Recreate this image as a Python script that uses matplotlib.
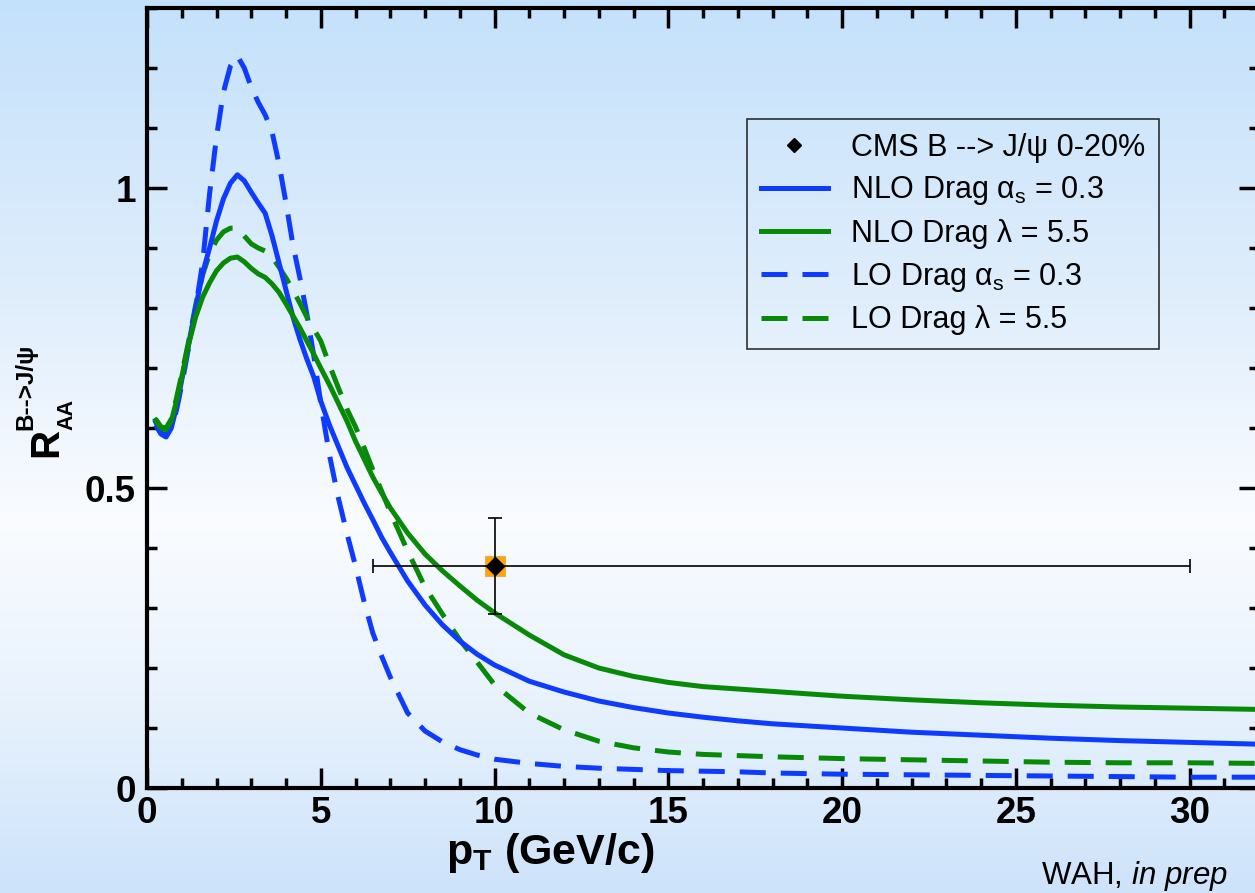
import numpy as np
import matplotlib
matplotlib.use("Agg")
import matplotlib.pyplot as plt
from matplotlib.lines import Line2D
from matplotlib.ticker import MultipleLocator

plt.rcParams['font.family'] = ['Liberation Sans', 'DejaVu Sans']
plt.rcParams['mathtext.fontset'] = 'custom'
plt.rcParams['mathtext.rm'] = 'Liberation Sans'
plt.rcParams['mathtext.it'] = 'Liberation Sans:italic'
plt.rcParams['mathtext.bf'] = 'Liberation Sans:bold'

# ---------------- data ----------------
pt = [0.25, 0.4, 0.55, 0.7, 0.85, 1.0, 1.2, 1.4, 1.6, 1.8, 2.0, 2.2, 2.4, 2.6, 2.8,
      3.0, 3.2, 3.4, 3.6, 3.8, 4.0, 4.2, 4.4, 4.6, 4.8, 5.0, 5.25, 5.5, 5.75, 6.0,
      6.25, 6.5, 6.75, 7.0, 7.5, 8.0, 8.5, 9.0, 9.5, 10, 11, 12, 13, 14, 15, 16, 17,
      18, 20, 22, 24, 26, 28, 30, 32]

nlo_alpha = [0.61, 0.592, 0.588, 0.60, 0.635, 0.68, 0.74, 0.80, 0.858, 0.90, 0.945,
             0.982, 1.008, 1.022, 1.012, 0.993, 0.975, 0.958, 0.92, 0.875, 0.83, 0.785,
             0.748, 0.715, 0.685, 0.645, 0.605, 0.57, 0.535, 0.505, 0.475, 0.447, 0.418,
             0.393, 0.345, 0.305, 0.272, 0.245, 0.223, 0.205, 0.178, 0.16, 0.145, 0.134,
             0.125, 0.118, 0.112, 0.107, 0.10, 0.093, 0.088, 0.083, 0.079, 0.076, 0.073]

nlo_lambda = [0.613, 0.60, 0.597, 0.612, 0.645, 0.685, 0.74, 0.785, 0.818, 0.842, 0.862,
              0.875, 0.883, 0.885, 0.877, 0.866, 0.857, 0.851, 0.84, 0.826, 0.807, 0.787,
              0.767, 0.745, 0.723, 0.70, 0.672, 0.642, 0.612, 0.578, 0.548, 0.518, 0.492,
              0.467, 0.425, 0.39, 0.362, 0.337, 0.313, 0.292, 0.255, 0.222, 0.20, 0.186,
              0.176, 0.169, 0.165, 0.161, 0.153, 0.147, 0.142, 0.138, 0.135, 0.133, 0.131]

lo_alpha = [0.605, 0.59, 0.585, 0.60, 0.63, 0.672, 0.735, 0.80, 0.875, 0.99, 1.085,
            1.16, 1.203, 1.22, 1.20, 1.168, 1.143, 1.122, 1.093, 1.04, 0.975, 0.905,
            0.85, 0.79, 0.72, 0.642, 0.555, 0.485, 0.425, 0.37, 0.31, 0.258, 0.22,
            0.185, 0.125, 0.095, 0.077, 0.064, 0.055, 0.048, 0.041, 0.036, 0.033, 0.031,
            0.029, 0.028, 0.027, 0.025, 0.023, 0.022, 0.021, 0.02, 0.019, 0.018, 0.018]

lo_lambda = [0.615, 0.602, 0.60, 0.615, 0.65, 0.69, 0.745, 0.805, 0.855, 0.89, 0.913,
             0.927, 0.933, 0.933, 0.92, 0.907, 0.90, 0.895, 0.885, 0.868, 0.85, 0.83,
             0.808, 0.785, 0.765, 0.745, 0.705, 0.668, 0.632, 0.602, 0.567, 0.53, 0.495,
             0.46, 0.395, 0.335, 0.29, 0.247, 0.21, 0.172, 0.125, 0.097, 0.078, 0.067,
             0.06, 0.056, 0.054, 0.052, 0.049, 0.047, 0.045, 0.043, 0.042, 0.042, 0.041]

cms_pt = [10.0]
cms_raa = [0.37]
cms_pt_lo = [6.5]
cms_pt_hi = [30.0]
cms_raa_lo = [0.29]
cms_raa_hi = [0.45]

labels = ['CMS B --> J/ψ 0-20%',
          r'NLO Drag α$_\mathrm{s}$ = 0.3',
          'NLO Drag λ = 5.5',
          r'LO Drag α$_\mathrm{s}$ = 0.3',
          'LO Drag λ = 5.5']

blue = '#0d3bff'
green = '#088a08'
W, H = 1255, 893

fig = plt.figure(figsize=(W / 100, H / 100), dpi=100)

# background gradient (light blue -> white -> light blue)
bg = fig.add_axes([0, 0, 1, 1], zorder=-10)
bg.axis('off')
rows = np.arange(H)
stop_y = [0, 300, 520, 700, H - 1]
stop_c = np.array([[196, 225, 251], [224, 238, 252], [250, 252, 255],
                   [232, 242, 253], [205, 227, 250]]) / 255.0
grad = np.stack([np.interp(rows, stop_y, stop_c[:, k]) for k in range(3)], axis=-1)
bg.imshow(grad[:, None, :], aspect='auto', extent=[0, 1, 0, 1])

ax = fig.add_axes([147 / W, 105 / H, 1112 / W, 780 / H])
ax.set_facecolor('none')

dash = (5.2, 3.0)
l_lo_a, = ax.plot(pt, lo_alpha, color=blue, lw=3.6, dashes=dash)
l_lo_l, = ax.plot(pt, lo_lambda, color=green, lw=3.6, dashes=dash)
l_nlo_a, = ax.plot(pt, nlo_alpha, color=blue, lw=3.6)
l_nlo_l, = ax.plot(pt, nlo_lambda, color=green, lw=3.6)

cms_pt_a = np.array(cms_pt)
cms_raa_a = np.array(cms_raa)
xerr = [cms_pt_a - np.array(cms_pt_lo), np.array(cms_pt_hi) - cms_pt_a]
yerr = [cms_raa_a - np.array(cms_raa_lo), np.array(cms_raa_hi) - cms_raa_a]
ax.plot(cms_pt, cms_raa, 's', color='#ffa500', ms=14, mec='#e0b060', mew=0.8, zorder=5)
ax.errorbar(cms_pt, cms_raa, xerr=xerr, yerr=yerr, fmt='D', color='black', ms=9,
            elinewidth=1.2, capsize=5, capthick=1.2, zorder=6)

ax.set_xlim(0, 32)
ax.set_ylim(0, 1.3)
ax.xaxis.set_major_locator(MultipleLocator(5))
ax.xaxis.set_minor_locator(MultipleLocator(1))
ax.yaxis.set_minor_locator(MultipleLocator(0.1))
ax.set_yticks([0, 0.5, 1])
ax.set_yticklabels(['0', '0.5', '1'])
ax.tick_params(which='both', direction='in', top=True, right=True, width=2.5)
ax.tick_params(which='major', length=14.5)
ax.tick_params(which='minor', length=7.5)
ax.tick_params(axis='x', labelsize=26.5, pad=6)
ax.tick_params(axis='y', labelsize=26.5, pad=8)
for lab in ax.get_xticklabels() + ax.get_yticklabels():
    lab.set_fontweight('bold')
for s in ax.spines.values():
    s.set_linewidth(3)

ax.set_xlabel(r'$\mathbf{p}_\mathbf{T}$ (GeV/c)', fontsize=31, fontweight='bold')
ax.xaxis.set_label_coords((550 - 147) / 1112, -0.055)

# y label built from pieces, rotated
def ptxt(x, y, s, **kw):
    fig.text(x / W, 1 - y / H, s, rotation=90, rotation_mode='anchor',
             ha='left', va='baseline', fontweight='bold', **kw)

ptxt(57, 457, 'R', fontsize=29)
ptxt(72, 430, 'AA', fontsize=15.5)
ptxt(32, 430, 'B-->J/ψ', fontsize=17.5)

cms_handle = Line2D([], [], marker='D', ls='none', color='black', ms=7.5)
leg = ax.legend([cms_handle, l_nlo_a, l_nlo_l, l_lo_a, l_lo_l], labels,
                loc='upper left', bbox_to_anchor=(747 / W, 1 - 119 / H),
                bbox_transform=fig.transFigure, borderaxespad=0, fontsize=22,
                frameon=True, fancybox=False, edgecolor='black', facecolor='none',
                handlelength=2.2, handletextpad=0.75, labelspacing=0.38, borderpad=0.45)
leg.get_frame().set_linewidth(1.2)

fig.text(1228 / W, 1 - 884 / H, r'WAH, $\mathit{in\ prep}$', fontsize=22.5,
         ha='right', va='baseline')

fig.savefig('out.png', dpi=100)
